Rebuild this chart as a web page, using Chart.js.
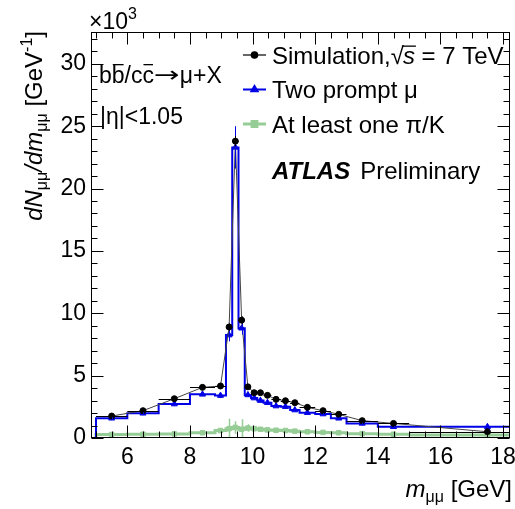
<!DOCTYPE html>
<html>
<head>
<meta charset="utf-8">
<script src="https://cdn.jsdelivr.net/npm/chart.js@4.4.1/dist/chart.umd.min.js"></script>
<style>
  html, body { margin: 0; padding: 0; background: #fff; }
</style>
</head>
<body>
<canvas id="c" width="515" height="509"></canvas>
<script>
// m_mumu bins [GeV] and contents (x10^3 per GeV)
const binEdges = [5, 6, 7, 8, 8.8, 9.15, 9.35, 9.55, 9.75, 9.95, 10.15, 10.35, 10.6, 10.9, 11.2, 11.5, 12, 12.5, 13, 14, 15, 20];
const simValues = [1.76, 2.19, 3.15, 4.06, 4.17, 8.9, 23.8, 9.45, 4.1, 3.63, 3.63, 3.42, 3.1, 2.99, 2.83, 2.46, 2.19, 1.9, 1.39, 1.17, 0.5];
const simErrors = [0.1, 0.1, 0.1, 0.15, 0.2, 0.3, 0.4, 0.3, 0.15, 0.12, 0.12, 0.12, 0.1, 0.1, 0.1, 0.08, 0.08, 0.08, 0.06, 0.06, 0.03];
const promptValues = [1.58, 1.98, 2.72, 3.5, 3.4, 8.25, 23.3, 8.8, 3.45, 3.2, 3.0, 2.83, 2.56, 2.51, 2.24, 2.03, 1.92, 1.58, 1.17, 0.9, 0.9];
const promptErrors = [0.1, 0.1, 0.1, 0.12, 0.2, 0.5, 1.7, 0.5, 0.15, 0.12, 0.12, 0.12, 0.1, 0.1, 0.1, 0.08, 0.08, 0.08, 0.06, 0.06, 0.03];
const fakeValues = [0.28, 0.3, 0.33, 0.42, 0.6, 0.75, 0.85, 0.7, 0.8, 0.75, 0.7, 0.65, 0.62, 0.6, 0.55, 0.5, 0.45, 0.42, 0.35, 0.3, 0.25];
const fakeErrors = [0.05, 0.05, 0.05, 0.08, 0.2, 0.8, 0.5, 0.8, 0.3, 0.2, 0.15, 0.1, 0.1, 0.08, 0.08, 0.06, 0.06, 0.05, 0.05, 0.05, 0.03];
const xTicks = [6, 8, 10, 12, 14, 16, 18];
const yTicks = [0, 5, 10, 15, 20, 25, 30];

const FONT = '"Liberation Sans", Arial, sans-serif';
const BLUE = '#0000e6';
const GREEN = 'rgb(150,205,150)';

const binCenters = binEdges.slice(0, -1).map((e, i) => (e + binEdges[i + 1]) / 2);
const pts = vals => binCenters.map((x, i) => ({ x, y: vals[i] }));
function stepPoints(vals) {
    const out = [{ x: binEdges[0], y: 0 }];
    vals.forEach((v, i) => out.push({ x: binEdges[i], y: v }, { x: binEdges[i + 1], y: v }));
    return out;
}

// draw a run of text pieces (sub/superscripts, overlines, stretch), returns width
function drawParts(ctx, parts, x, y, measureOnly) {
    let cx = x;
    for (const p of parts) {
        ctx.font = p.font;
        const sx = p.sx || 1;
        const w = ctx.measureText(p.t).width * sx;
        if (!measureOnly) {
            ctx.save();
            ctx.translate(cx, y + (p.dy || 0));
            ctx.scale(sx, 1);
            ctx.fillText(p.t, 0, 0);
            ctx.restore();
            if (p.over) {
                const pad = p.overPad === undefined ? 1 : p.overPad;
                ctx.fillRect(cx + pad, y - p.over, w - 2 * pad, 1.3);
            }
        }
        cx += w;
    }
    return cx - x;
}

const errorBars = {
    id: 'errorBars',
    afterDatasetsDraw(chart) {
        const { ctx, chartArea: a, scales: { x, y } } = chart;
        ctx.save();
        ctx.beginPath();
        ctx.rect(a.left, a.top, a.right - a.left, a.bottom - a.top);
        ctx.clip();
        const vbar = (vals, errs, color, w) => {
            ctx.strokeStyle = color; ctx.lineWidth = w;
            ctx.beginPath();
            binCenters.forEach((c, i) => {
                const px = Math.round(x.getPixelForValue(c)) + 0.5;
                ctx.moveTo(px, y.getPixelForValue(vals[i] - errs[i]));
                ctx.lineTo(px, y.getPixelForValue(vals[i] + errs[i]));
            });
            ctx.stroke();
        };
        vbar(fakeValues, fakeErrors, GREEN, 1.5);
        vbar(promptValues, promptErrors, BLUE, 1);
        vbar(simValues, simErrors, '#000', 1);
        // horizontal bin-width bars on the simulation points
        ctx.strokeStyle = '#000'; ctx.lineWidth = 1;
        ctx.beginPath();
        simValues.forEach((v, i) => {
            const py = Math.round(y.getPixelForValue(v)) + 0.5;
            ctx.moveTo(x.getPixelForValue(binEdges[i]), py);
            ctx.lineTo(x.getPixelForValue(binEdges[i + 1]), py);
        });
        ctx.stroke();
        ctx.restore();
    }
};

const frameTicks = {
    id: 'frameTicks',
    afterDraw(chart) {
        const { ctx, chartArea: a, scales: { x, y } } = chart;
        ctx.save();
        ctx.strokeStyle = '#000'; ctx.lineWidth = 1;
        const L = Math.round(a.left) + 0.5, R = Math.round(a.right) - 0.5;
        const T = Math.round(a.top) + 0.5, B = Math.round(a.bottom) - 0.5;
        ctx.strokeRect(L, T, R - L, B - T);
        ctx.beginPath();
        for (let k = Math.ceil(x.min * 2); k <= Math.floor(x.max * 2); k++) {
            const px = Math.round(x.getPixelForValue(k / 2)) + 0.5;
            const len = (k % 4 === 0) ? 12 : 6;
            ctx.moveTo(px, B); ctx.lineTo(px, B - len);
            ctx.moveTo(px, T); ctx.lineTo(px, T + len);
        }
        for (let k = 0; k <= Math.floor(y.max); k++) {
            const py = Math.round(y.getPixelForValue(k)) + 0.5;
            const len = (k % 5 === 0) ? 12 : 6;
            ctx.moveTo(L, py); ctx.lineTo(L + len, py);
            ctx.moveTo(R, py); ctx.lineTo(R - len, py);
        }
        ctx.stroke();

        ctx.fillStyle = '#000';
        ctx.textBaseline = 'alphabetic';
        ctx.textAlign = 'left';
        const big = `24px ${FONT}`, mid = `23px ${FONT}`, it = `italic 24px ${FONT}`, sub = `16px ${FONT}`;

        // exponent
        drawParts(ctx, [{ t: '\u00d710', font: mid }, { t: '3', font: sub, dy: -10 }], 89, 29);

        // process and eta cut
        drawParts(ctx, [
            { t: 'b', font: mid }, { t: 'b', font: mid, over: 19 }, { t: '/', font: mid },
            { t: 'c', font: mid }, { t: 'c', font: mid, over: 19 },
            { t: '\u2192', font: `22px "DejaVu Sans", sans-serif`, sx: 1.4, dy: -1 },
            { t: '\u03bc+X', font: mid }
        ], 99, 83);
        drawParts(ctx, [{ t: '|\u03b7|<1.05', font: mid }], 100, 124);

        // y title, rotated, ending at the top of the frame
        const yParts = [
            { t: 'dN', font: it }, { t: '\u03bc\u03bc', font: sub, dy: 5 }, { t: '/dm', font: it },
            { t: '\u03bc\u03bc', font: sub, dy: 5 }, { t: ' [GeV', font: big }, { t: '-1', font: sub, dy: -10 },
            { t: ']', font: big }
        ];
        const W = drawParts(ctx, yParts, 0, 0, true);
        ctx.save();
        ctx.translate(42, 31);
        ctx.rotate(-Math.PI / 2);
        drawParts(ctx, yParts, -W, 0);
        ctx.restore();

        // x title, right aligned
        const xParts = [{ t: 'm', font: it }, { t: '\u03bc\u03bc', font: sub, dy: 5 }, { t: ' [GeV]', font: big }];
        const XW = drawParts(ctx, xParts, 0, 0, true);
        drawParts(ctx, xParts, 512 - XW, 497);

        // legend
        const rows = [
            { y: 55, color: '#000', line: 1.2, style: 'circle', r: 3.2 },
            { y: 89.5, color: BLUE, line: 2, style: 'triangle', r: 3.6 },
            { y: 124, color: GREEN, line: 3, style: 'rect', r: 3.4 }
        ];
        rows.forEach(rw => {
            ctx.strokeStyle = rw.color; ctx.lineWidth = rw.line;
            ctx.beginPath(); ctx.moveTo(243, rw.y); ctx.lineTo(266, rw.y); ctx.stroke();
            ctx.fillStyle = rw.color;
            Chart.helpers.drawPoint(ctx, { pointStyle: rw.style, radius: rw.r, borderWidth: 1, rotation: 0 }, 254.5, rw.y);
        });
        ctx.fillStyle = '#000';
        const wSim = drawParts(ctx, [{ t: 'Simulation,', font: big }], 272, 63.5);
        const rx = 272 + wSim;
        const wRad = drawParts(ctx, [{ t: '\u221a', font: big }], rx, 63.5);
        const wS = drawParts(ctx, [{ t: 's', font: it, over: 18, overPad: -1 }], rx + wRad - 1, 63.5);
        drawParts(ctx, [{ t: ' = 7 TeV', font: big }], rx + wRad - 1 + wS, 63.5);
        drawParts(ctx, [{ t: 'Two prompt \u03bc', font: big }], 272, 98);
        drawParts(ctx, [{ t: 'At least one \u03c0/K', font: big }], 272, 132.5);
        const wA = drawParts(ctx, [{ t: 'ATLAS', font: `italic bold 24px ${FONT}` }], 272, 178.5);
        drawParts(ctx, [{ t: 'Preliminary', font: big }], 272 + wA + 10, 178.5);
        ctx.restore();
    }
};

new Chart(document.getElementById('c'), {
    type: 'scatter',
    data: {
        datasets: [
            { label: 'Simulation', data: pts(simValues), showLine: true, borderColor: '#444', borderWidth: 1,
              pointRadius: 3, pointBackgroundColor: '#000', pointBorderColor: '#000', order: 1 },
            { label: 'Two prompt markers', data: pts(promptValues), pointStyle: 'triangle', pointRadius: 3.5,
              pointBackgroundColor: BLUE, pointBorderColor: BLUE, order: 2 },
            { label: 'Two prompt', data: stepPoints(promptValues), showLine: true, borderColor: BLUE, borderWidth: 2,
              pointRadius: 0, order: 3 },
            { label: 'pi/K markers', data: pts(fakeValues), pointStyle: 'rect', pointRadius: 3.2,
              pointBackgroundColor: GREEN, pointBorderColor: GREEN, order: 4 },
            { label: 'pi/K', data: stepPoints(fakeValues), showLine: true, borderColor: GREEN, borderWidth: 3,
              pointRadius: 0, order: 5 }
        ]
    },
    options: {
        responsive: false, animation: false, devicePixelRatio: 1,
        layout: { padding: { top: 32, right: 3, left: 0, bottom: 0 } },
        plugins: { legend: { display: false }, tooltip: { enabled: false } },
        scales: {
            x: {
                type: 'linear', min: 4.84, max: 18.22,
                grid: { display: false, drawTicks: false }, border: { display: false },
                ticks: { color: '#000', font: { family: FONT, size: 23 }, padding: 6, maxRotation: 0, autoSkip: false,
                         includeBounds: false, callback: v => String(v) },
                afterBuildTicks: s => { s.ticks = xTicks.map(v => ({ value: v })); },
                afterFit: s => { s.height = 71; s.paddingLeft = 0; s.paddingRight = 0; }
            },
            y: {
                type: 'linear', min: 0, max: 32.55,
                grid: { display: false, drawTicks: false }, border: { display: false },
                ticks: { color: '#000', font: { family: FONT, size: 23 }, padding: 5, autoSkip: false,
                         includeBounds: false, callback: v => String(v) },
                afterBuildTicks: s => { s.ticks = yTicks.map(v => ({ value: v })); },
                afterFit: s => { s.width = 91; s.paddingTop = 0; s.paddingBottom = 0; }
            }
        }
    },
    plugins: [errorBars, frameTicks]
});
</script>
</body>
</html>
